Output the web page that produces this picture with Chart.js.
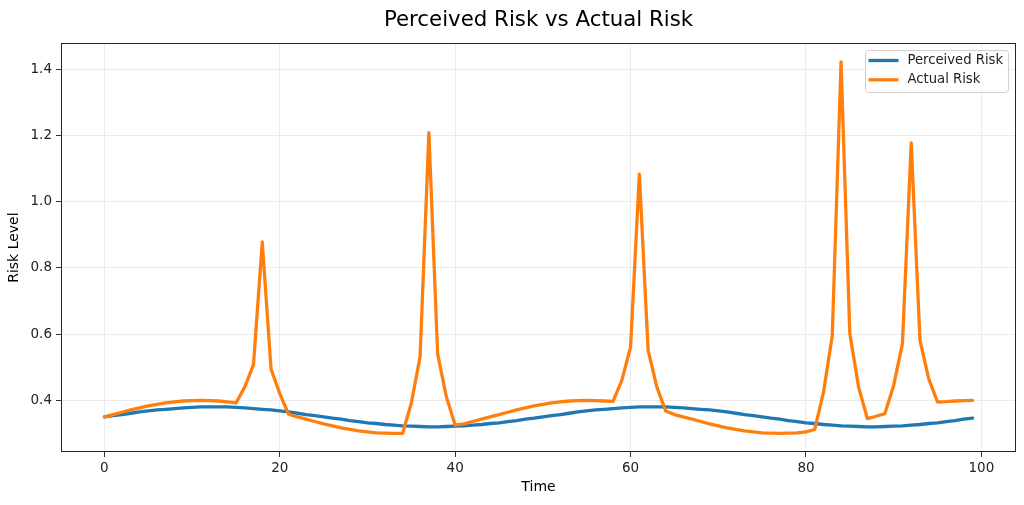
<!DOCTYPE html>
<html><head><meta charset="utf-8">
<script src="https://cdn.jsdelivr.net/npm/chart.js@4"></script>
<style>html,body{margin:0;padding:0;background:#fff;}#wrap{width:1024px;height:505px;}</style>
</head><body><div id="wrap"><canvas id="c" width="1024" height="505"></canvas></div>
<script>
const time=[0,1,2,3,4,5,6,7,8,9,10,11,12,13,14,15,16,17,18,19,20,21,22,23,24,25,26,27,28,29,30,31,32,33,34,35,36,37,38,39,40,41,42,43,44,45,46,47,48,49,50,51,52,53,54,55,56,57,58,59,60,61,62,63,64,65,66,67,68,69,70,71,72,73,74,75,76,77,78,79,80,81,82,83,84,85,86,87,88,89,90,91,92,93,94,95,96,97,98,99];
const perceivedRisk=[0.350,0.354,0.357,0.361,0.365,0.368,0.371,0.373,0.375,0.377,0.379,0.380,0.380,0.380,0.380,0.379,0.377,0.375,0.373,0.371,0.368,0.365,0.361,0.357,0.354,0.350,0.346,0.343,0.339,0.336,0.332,0.330,0.327,0.325,0.323,0.322,0.321,0.320,0.320,0.321,0.322,0.323,0.325,0.327,0.330,0.332,0.336,0.339,0.343,0.346,
0.350,0.354,0.357,0.361,0.365,0.368,0.371,0.373,0.375,0.377,0.379,0.380,0.380,0.380,0.380,0.379,0.377,0.375,0.373,0.371,0.368,0.365,0.361,0.357,0.354,0.350,0.346,0.343,0.339,0.336,0.332,0.330,0.327,0.325,0.323,0.322,0.321,0.320,0.320,0.321,0.322,0.323,0.325,0.327,0.330,0.332,0.336,0.339,0.343,0.346];
const actualRisk=[0.350,0.357,0.364,0.371,0.377,0.383,0.388,0.392,0.395,0.398,0.399,0.400,0.399,0.398,0.395,0.392,0.440,0.508,0.878,0.495,0.420,0.358,0.350,0.343,0.336,0.329,0.323,0.317,0.312,0.308,0.305,0.302,0.301,0.300,0.300,0.392,0.532,1.208,0.540,0.410,0.325,0.329,0.336,0.343,0.350,0.357,0.364,0.371,0.377,0.383,
0.388,0.392,0.395,0.398,0.399,0.400,0.399,0.398,0.397,0.460,0.561,1.083,0.551,0.440,0.368,0.357,0.350,0.343,0.336,0.329,0.323,0.317,0.312,0.308,0.305,0.302,0.301,0.300,0.301,0.302,0.305,0.312,0.425,0.596,1.422,0.601,0.440,0.345,0.352,0.360,0.445,0.571,1.177,0.581,0.465,0.395,0.396,0.398,0.399,0.400];
const xTicks=[0,20,40,60,80,100];
const yTicks=[0.4,0.6,0.8,1.0,1.2,1.4];
const seriesLabels=['Perceived Risk','Actual Risk'];
const seriesColors=['#1f77b4','#ff7f0e'];
const titleText='Perceived Risk vs Actual Risk';
const xLabel='Time';
const yLabel='Risk Level';

const FF='"DejaVu Sans", sans-serif';
const tickFont={family:FF,size:13.5};
const labelFont={family:FF,size:14};

const framePlugin={
  id:'frame',
  afterDatasetsDraw(chart){
    const {ctx,chartArea:a}=chart;
    ctx.save();
    ctx.strokeStyle='#262626';ctx.lineWidth=1;
    ctx.strokeRect(Math.round(a.left)+0.5,Math.round(a.top)+0.5,Math.round(a.right-a.left)-1,Math.round(a.bottom-a.top)-1);
    // legend
    const w=143,h=42;
    const x0=Math.round(a.right)-8-w+0.5, y0=Math.round(a.top)+7+0.5;
    ctx.beginPath();
    if(ctx.roundRect){ctx.roundRect(x0,y0,w,h,3);}else{ctx.rect(x0,y0,w,h);}
    ctx.fillStyle='rgba(255,255,255,0.8)';ctx.fill();
    ctx.strokeStyle='#d0d0d0';ctx.lineWidth=1;ctx.stroke();
    ctx.font='13.2px '+FF;ctx.textBaseline='middle';ctx.fillStyle='#222';
    [0,1].forEach(i=>{
      const yy=y0+10+i*19.3;
      ctx.beginPath();ctx.moveTo(x0+3,yy);ctx.lineTo(x0+33,yy);
      ctx.strokeStyle=seriesColors[i];ctx.lineWidth=3.3;ctx.lineCap='butt';ctx.stroke();
      ctx.fillText(seriesLabels[i],x0+42,yy);
    });
    ctx.restore();
  }
};

new Chart(document.getElementById('c'),{
  type:'line',
  data:{datasets:[
    {label:seriesLabels[0],data:time.map((t,i)=>({x:t,y:perceivedRisk[i]})),borderColor:seriesColors[0],backgroundColor:seriesColors[0],borderWidth:3.3,pointRadius:0,tension:0,borderJoinStyle:'round',borderCapStyle:'round',order:1},
    {label:seriesLabels[1],data:time.map((t,i)=>({x:t,y:actualRisk[i]})),borderColor:seriesColors[1],backgroundColor:seriesColors[1],borderWidth:3.3,pointRadius:0,tension:0,borderJoinStyle:'round',borderCapStyle:'round',order:0}
  ]},
  options:{
    responsive:false,animation:false,devicePixelRatio:1,
    layout:{padding:{left:0,right:8,top:0,bottom:0}},
    plugins:{
      legend:{display:false},tooltip:{enabled:false},
      title:{display:true,text:titleText,fullSize:false,color:'#000',font:{family:FF,size:21.3,weight:'normal'},padding:{top:7.2,bottom:10.5}}
    },
    scales:{
      x:{type:'linear',min:-4.95,max:103.95,
        afterBuildTicks:s=>{s.ticks=xTicks.map(v=>({value:v}));},
        afterFit:s=>{s.height=53;},
        ticks:{font:tickFont,color:'#222',padding:3,maxRotation:0,autoSkip:false,callback:v=>String(v)},
        grid:{color:'#ebebeb',lineWidth:1,tickColor:'#333',tickLength:5},
        border:{display:false},
        title:{display:true,text:xLabel,color:'#000',font:labelFont,padding:{top:0,bottom:9}}
      },
      y:{type:'linear',min:0.244,max:1.478,
        afterBuildTicks:s=>{s.ticks=yTicks.map(v=>({value:v}));},
        afterFit:s=>{s.width=61;},
        ticks:{font:tickFont,color:'#222',padding:4,autoSkip:false,callback:v=>Number(v).toFixed(1)},
        grid:{color:'#ebebeb',lineWidth:1,tickColor:'#333',tickLength:5},
        border:{display:false},
        title:{display:true,text:yLabel,color:'#000',font:labelFont,padding:{top:6,bottom:0}}
      }
    }
  },
  plugins:[framePlugin]
});
</script></body></html>
